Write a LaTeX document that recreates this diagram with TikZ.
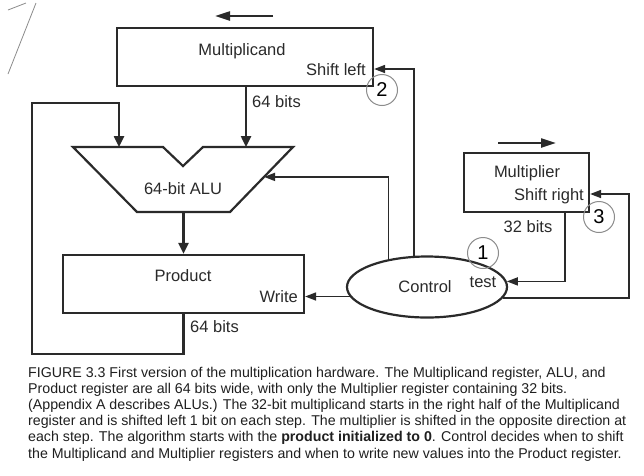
\documentclass[tikz,border=0pt]{standalone}
\usepackage{fontspec}
\setmainfont{Liberation Sans}
\usetikzlibrary{arrows.meta,calc,shapes.geometric}
\definecolor{linie}{HTML}{2A2A2A}
\definecolor{kreis}{HTML}{8C8C8C}

\begin{document}
\begin{tikzpicture}[x=1pt,y=-1pt,
  every node/.style={text=linie,inner sep=0pt},
  reg/.style={draw=linie,line width=2.2pt,rectangle},
  bus/.style={draw=linie,line width=2.4pt,-{Triangle[length=11pt,width=10pt]}},
  ctl/.style={draw=linie,line width=1.6pt,-{Triangle[length=11pt,width=8pt]}},
  schritt/.style={circle,draw=kreis,line width=1pt,minimum size=31pt,text=black,font=\fontsize{20}{20}\selectfont},
  txt/.style={font=\fontsize{16.5}{19}\selectfont}]

\useasboundingbox (0,0) rectangle (644,475);
\fill[white] (0,0) rectangle (644,475);

% Scan-Reste oben links
\draw[kreis,line width=0.8pt] (8,10) -- (26,3);
\draw[kreis,line width=0.8pt] (36,3) -- (8,74);

% ------------------- Register -------------------
\node[reg,minimum width=256pt,minimum height=58pt] (mcand) at (245,57) {};
\node[reg,minimum width=125pt,minimum height=59pt] (mplier) at (526.5,182.5) {};
\node[reg,minimum width=241pt,minimum height=58pt] (prod) at (183.5,284) {};
\node[ellipse,draw=linie,line width=2.2pt,minimum width=160pt,minimum height=61pt] (ctrl) at (427,287) {};

% ALU
\coordinate (aluTL) at (73,147);
\coordinate (aluTR) at (293,147);
\coordinate (aluBL) at (137,212);
\coordinate (aluBR) at (230,212);
\draw[linie,line width=2.2pt,line join=miter]
  (aluTL) -- (163,147) -- (183,166) -- (203,147) -- (aluTR) -- (aluBR) -- (aluBL) -- cycle;
\coordinate (aluL) at (119,147);
\coordinate (aluR) at (246,147);
\coordinate (aluOut) at (183.5,212);
\coordinate (aluCtl) at ($(aluTR)!0.46!(aluBR)$);

% ------------------- Beschriftungen -------------------
\node[txt,anchor=base] (lMcand) at (242,55) {Multiplicand};
\node[txt,anchor=base east] (lShl) at (366,75) {Shift left};
\node[txt,anchor=base] (lAlu) at (183,194) {64-bit ALU};
\node[txt,anchor=base] (lProd) at (183,281) {Product};
\node[txt,anchor=base east] (lWrite) at (298,302) {Write};
\node[txt,anchor=base] (lMplier) at (527,177) {Multiplier};
\node[txt,anchor=base east] (lShr) at (584,200) {Shift right};
\node[txt,anchor=base] (lCtrl) at (425,292) {Control};
\node[txt,anchor=base] (lTest) at (483,287) {test};
\node[txt,anchor=base west] (lBitsA) at (252,107) {64 bits};
\node[txt,anchor=base west] (lBitsB) at (190,332) {64 bits};
\node[txt,anchor=base] (lBitsC) at (528,232) {32 bits};

% Schrittnummern
\node[schritt] (s1) at (483,253) {1};
\node[schritt] (s2) at (382,90) {2};
\node[schritt] (s3) at (599,217) {3};

% Schieberichtung
\draw[linie,line width=2.2pt,-{Triangle[length=15pt,width=9pt]}] (273,16) -- (215,16);
\draw[linie,line width=2.2pt,-{Triangle[length=15pt,width=9pt]}] (498,143) -- (556,143);

% ------------------- Datenpfade -------------------
\draw[bus] (mcand.south -| aluR) -- (aluR);
\draw[bus] (aluOut) -- (prod.north -| aluOut);
\draw[bus] (prod.south) -- ++(0,40) -| (32,103) -| (aluL);

% ------------------- Steuerleitungen -------------------
\draw[ctl] (ctrl.187) -- (ctrl.187 -| prod.east);
\draw[ctl] (ctrl.144) |- (aluCtl);
\draw[ctl] (ctrl.113) |- ($(mcand.east)+(0,12)$);
\draw[ctl] ($(mplier.south)+(38.5,0)$) |- (ctrl.4);
\coordinate (srIn) at ($(mplier.east)+(0,11.5)$);
\draw[ctl] (ctrl.-8) -| ($(srIn)+(39,0)$) -- (srIn);

% ------------------- Bildunterschrift -------------------
\node[anchor=north west,align=left,font=\fontsize{14.2}{16.2}\selectfont,text=black!88] (cap) at (28,366.5)
  {FIGURE 3.3 First version of the multiplication hardware. The Multiplicand register, ALU, and\\
   Product register are all 64 bits wide, with only the Multiplier register containing 32 bits.\\
   (Appendix A describes ALUs.) The 32-bit multiplicand starts in the right half of the Multiplicand\\
   register and is shifted left 1 bit on each step. The multiplier is shifted in the opposite direction at\\
   each step. The algorithm starts with the \textbf{product initialized to 0}. Control decides when to shift\\
   the Multiplicand and Multiplier registers and when to write new values into the Product register.};

\end{tikzpicture}
\end{document}
